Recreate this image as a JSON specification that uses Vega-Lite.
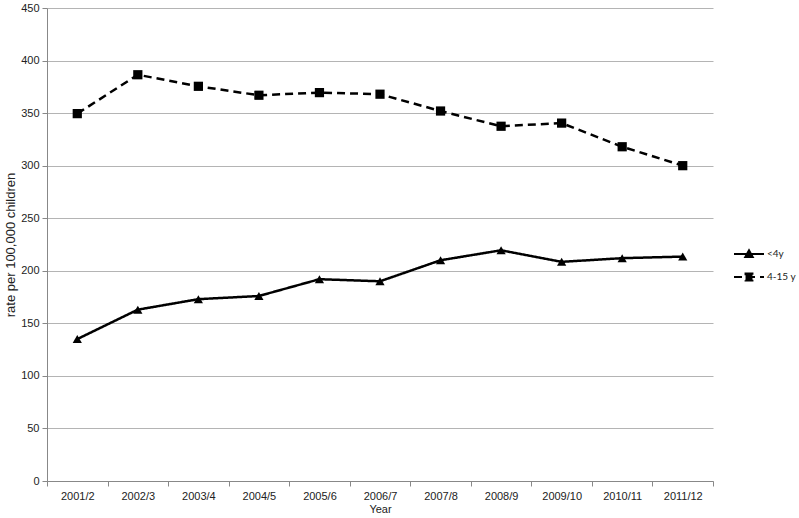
{
  "$schema": "https://vega.github.io/schema/vega-lite/v6.json",
  "autosize": "none",
  "width": 666,
  "height": 473,
  "padding": {"left": 47, "top": 8, "right": 86, "bottom": 37},
  "background": "white",
  "config": {
    "view": {"stroke": null},
    "font": "Liberation Sans",
    "axis": {"labelFont": "Liberation Sans", "titleFont": "Liberation Sans", "labelColor": "#222", "titleColor": "#222", "domainColor": "#888", "tickColor": "#888", "gridColor": "#b4b4b4", "labelFontSize": 11}
  },
  "data": {
    "values": [
      {"year": "2001/2", "group": "<4y", "rate": 135},
      {"year": "2002/3", "group": "<4y", "rate": 163},
      {"year": "2003/4", "group": "<4y", "rate": 173},
      {"year": "2004/5", "group": "<4y", "rate": 176},
      {"year": "2005/6", "group": "<4y", "rate": 192},
      {"year": "2006/7", "group": "<4y", "rate": 190},
      {"year": "2007/8", "group": "<4y", "rate": 210},
      {"year": "2008/9", "group": "<4y", "rate": 219.5},
      {"year": "2009/10", "group": "<4y", "rate": 208.5},
      {"year": "2010/11", "group": "<4y", "rate": 212},
      {"year": "2011/12", "group": "<4y", "rate": 213.5},
      {"year": "2001/2", "group": "4-15 y", "rate": 349.5},
      {"year": "2002/3", "group": "4-15 y", "rate": 386.5},
      {"year": "2003/4", "group": "4-15 y", "rate": 375.5},
      {"year": "2004/5", "group": "4-15 y", "rate": 367},
      {"year": "2005/6", "group": "4-15 y", "rate": 369.5},
      {"year": "2006/7", "group": "4-15 y", "rate": 368},
      {"year": "2007/8", "group": "4-15 y", "rate": 352},
      {"year": "2008/9", "group": "4-15 y", "rate": 337.5},
      {"year": "2009/10", "group": "4-15 y", "rate": 340.5},
      {"year": "2010/11", "group": "4-15 y", "rate": 318},
      {"year": "2011/12", "group": "4-15 y", "rate": 300}
    ]
  },
  "encoding": {
    "x": {
      "field": "year", "type": "ordinal", "sort": null, "bandPosition": 0.5,
      "scale": {"type": "band", "paddingInner": 0, "paddingOuter": 0},
      "axis": {"title": "Year", "titleFontSize": 11, "titleFontWeight": "normal", "titlePadding": 2, "labelAngle": 0, "tickBand": "extent", "grid": false, "tickSize": 5, "labelPadding": 4}
    },
    "y": {
      "field": "rate", "type": "quantitative",
      "scale": {"domain": [0, 450], "nice": false},
      "axis": {"title": "rate per 100,000 children", "titleFontSize": 13, "titleFontWeight": "normal", "titlePadding": 3, "values": [0, 50, 100, 150, 200, 250, 300, 350, 400, 450], "tickSize": 5, "labelPadding": 3, "grid": true}
    }
  },
  "layer": [
    {
      "mark": {"type": "line", "color": "black", "strokeWidth": 2.5},
      "encoding": {
        "strokeDash": {
          "field": "group", "type": "nominal",
          "scale": {"domain": ["<4y", "4-15 y"], "range": [[1, 0], [8, 5]]},
          "legend": {
            "title": null, "orient": "none", "legendX": 686, "legendY": 230,
            "labelFont": "Lato", "labelFontSize": 10, "labelColor": "#222",
            "symbolSize": 900, "symbolStrokeWidth": 2, "symbolStrokeColor": "black", "rowPadding": -3, "labelOffset": 2,
            "encode": {
              "symbols": {
                "update": {
                  "shape": {"signal": "datum.value === '<4y' ? 'M-1,0H1M-0.25,0.2L0,-0.25L0.25,0.2Z' : 'M-1,0H1M-0.23,-0.23H0.23V0.23H-0.23Z'"},
                  "fill": {"value": "black"},
                  "stroke": {"value": "black"}
                }
              }
            }
          }
        }
      }
    },
    {
      "mark": {"type": "point", "filled": true, "color": "black", "opacity": 1},
      "encoding": {
        "shape": {
          "condition": {"test": "datum.group === '<4y'", "value": "triangle-up"},
          "value": "square"
        },
        "size": {"value": 85}
      }
    }
  ]
}
